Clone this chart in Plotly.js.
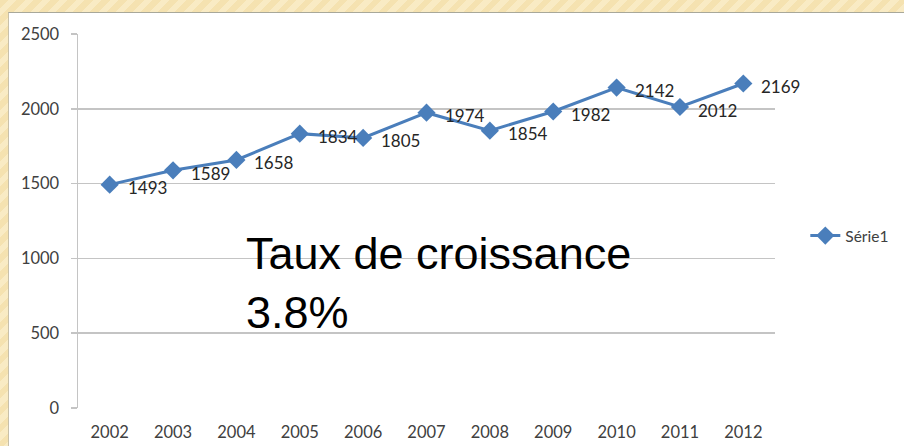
<!DOCTYPE html>
<html>
<head>
<meta charset="utf-8">
<script src="https://cdn.plot.ly/plotly-3.0.1.min.js"></script>
<style>
  html, body { margin: 0; padding: 0; width: 904px; height: 446px; overflow: hidden; }
  body {
    background: repeating-linear-gradient(135deg, #f5e2b0 0px, #f5e2b0 6px, #f9ebc4 6px, #f9ebc4 12px);
    position: relative;
  }
  #card {
    position: absolute; left: 8px; top: 12px; width: 896px; height: 434px;
    background: #ffffff; border-top: 1px solid #a8a89a; border-left: 1px solid #c8c0a8;
    box-sizing: border-box;
  }
  #chart { position: absolute; left: 0; top: 0; width: 896px; height: 434px; }
</style>
</head>
<body>
<div id="card"><div id="chart"></div></div>
<script>
const years = ['2002','2003','2004','2005','2006','2007','2008','2009','2010','2011','2012'];
const values = [1493, 1589, 1658, 1834, 1805, 1974, 1854, 1982, 2142, 2012, 2169];
const yTicks = [0, 500, 1000, 1500, 2000, 2500];
const seriesName = 'Série1';
const noteText = 'Taux de croissance<br>3.8%';

const trace = {
  x: years,
  y: values,
  type: 'scatter',
  mode: 'lines+markers',
  name: seriesName,
  line: { color: '#4a7ebb', width: 3 },
  marker: { symbol: 'diamond', size: 14, color: '#4a7ebb' },
  cliponaxis: false
};

// category index positions on the category x axis
const labelAnnotations = years.map((yr, i) => ({
  xref: 'x', yref: 'y', x: i, y: values[i],
  text: String(values[i]), showarrow: false,
  xanchor: 'left', yanchor: 'middle', xshift: 16, yshift: -3,
  font: { family: 'Lato, sans-serif', size: 17, color: '#262626' }
}));

const layout = {
  width: 896, height: 434,
  margin: { l: 69, r: 129, t: 21, b: 39 },
  paper_bgcolor: 'rgba(0,0,0,0)',
  plot_bgcolor: 'rgba(0,0,0,0)',
  showlegend: true,
  legend: {
    x: 1.042, y: 0.46, xanchor: 'left', yanchor: 'middle',
    font: { family: 'Lato, sans-serif', size: 15.5, color: '#404040' },
    bgcolor: 'rgba(0,0,0,0)'
  },
  xaxis: {
    type: 'category',
    range: [-0.5, 10.5],
    showgrid: false,
    zeroline: false,
    showline: false,
    ticks: 'outside', ticklen: 9, tickcolor: 'rgba(0,0,0,0)',
    tickfont: { family: 'Lato, sans-serif', size: 16.5, color: '#404040' },
    fixedrange: true
  },
  yaxis: {
    range: [0, 2500],
    tickvals: yTicks,
    showgrid: true, gridcolor: '#c4c4c4', gridwidth: 1.5,
    zeroline: false,
    showline: true, linecolor: '#c4c4c4', linewidth: 1.5,
    ticks: 'outside', ticklen: 6, tickcolor: '#c4c4c4', tickwidth: 1.5,
    ticklabelstandoff: 8,
    tickfont: { family: 'Lato, sans-serif', size: 16.5, color: '#404040' },
    fixedrange: true
  },
  annotations: labelAnnotations.concat([{
    xref: 'paper', yref: 'paper',
    x: 0.238, y: 0.335, xanchor: 'left', yanchor: 'middle',
    text: noteText, align: 'left', showarrow: false,
    font: { family: 'Liberation Sans, Arial, sans-serif', size: 45, color: '#000000' }
  }])
};

Plotly.newPlot('chart', [trace], layout, { displayModeBar: false, staticPlot: true });
</script>
</body>
</html>
